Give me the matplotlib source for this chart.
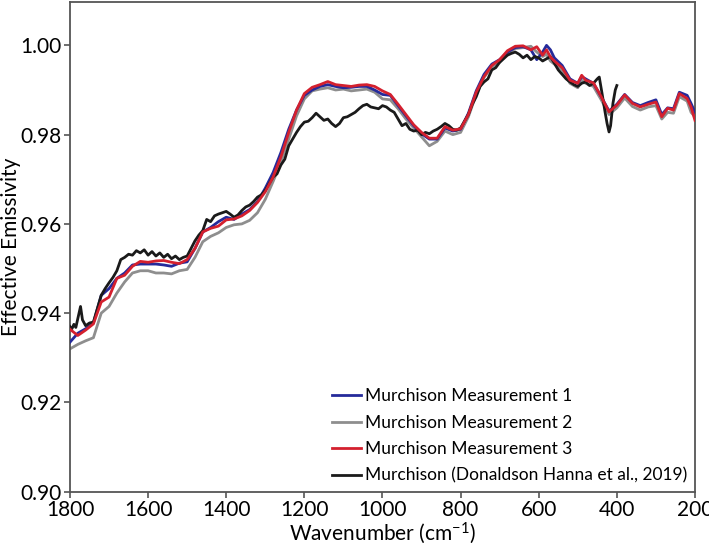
import matplotlib
matplotlib.use("Agg")
import matplotlib.pyplot as plt

plt.rcParams['font.family'] = ['Lato', 'DejaVu Sans']
plt.rcParams['mathtext.default'] = 'regular'

# Shared wavenumber grid for the three Murchison measurements (cm-1)
wavenumber = [1800, 1780, 1760, 1740, 1720, 1700, 1680, 1660, 1640, 1620, 1600, 1580, 1560, 1540, 1520,
              1500, 1480, 1460, 1440, 1420, 1400, 1380, 1360, 1340, 1320, 1300, 1280, 1260, 1240, 1220,
              1200, 1180, 1160, 1140, 1120, 1100, 1080, 1060, 1040, 1020, 1000, 980, 960, 940, 920,
              900, 880, 860, 840, 820, 800, 780, 760, 740, 720, 700, 680, 660, 640, 620,
              605, 590, 580, 570, 560, 540, 520, 500, 490, 480, 460, 440, 420, 400, 380,
              360, 340, 320, 300, 285, 270, 255, 240, 220, 210, 200]

meas1 = [0.9335, 0.9355, 0.9365, 0.9378, 0.9440, 0.9455, 0.9478, 0.9490, 0.9508, 0.9510, 0.9510, 0.9510,
         0.9508, 0.9505, 0.9512, 0.9515, 0.9545, 0.9582, 0.9592, 0.9605, 0.9615, 0.9610, 0.9622, 0.9632,
         0.9650, 0.9680, 0.9715, 0.9760, 0.9812, 0.9855, 0.9888, 0.9900, 0.9908, 0.9912, 0.9908, 0.9905,
         0.9906, 0.9908, 0.9908, 0.9900, 0.9890, 0.9888, 0.9865, 0.9842, 0.9820, 0.9802, 0.9790, 0.9790,
         0.9815, 0.9808, 0.9812, 0.9848, 0.9898, 0.9935, 0.9958, 0.9968, 0.9985, 0.9995, 0.9997, 0.9990,
         0.9968, 0.9985, 1.0000, 0.9990, 0.9972, 0.9955, 0.9925, 0.9915, 0.9930, 0.9925, 0.9915, 0.9885,
         0.9853, 0.9868, 0.9890, 0.9872, 0.9865, 0.9872, 0.9878, 0.9845, 0.9860, 0.9858, 0.9895, 0.9888,
         0.9870, 0.9850]

meas2 = [0.9320, 0.9330, 0.9338, 0.9345, 0.9400, 0.9415, 0.9445, 0.9470, 0.9490, 0.9495, 0.9495, 0.9490,
         0.9490, 0.9488, 0.9495, 0.9498, 0.9525, 0.9560, 0.9572, 0.9580, 0.9592, 0.9598, 0.9600, 0.9608,
         0.9625, 0.9655, 0.9695, 0.9738, 0.9790, 0.9842, 0.9880, 0.9898, 0.9902, 0.9905, 0.9900, 0.9902,
         0.9898, 0.9900, 0.9902, 0.9895, 0.9880, 0.9878, 0.9858, 0.9835, 0.9815, 0.9795, 0.9775, 0.9785,
         0.9808, 0.9800, 0.9805, 0.9840, 0.9890, 0.9928, 0.9952, 0.9962, 0.9982, 0.9993, 0.9995, 0.9998,
         0.9985, 0.9975, 0.9980, 0.9965, 0.9958, 0.9945, 0.9915, 0.9905, 0.9922, 0.9915, 0.9908, 0.9878,
         0.9845, 0.9860, 0.9882, 0.9863, 0.9855, 0.9862, 0.9865, 0.9835, 0.9850, 0.9848, 0.9885, 0.9875,
         0.9850, 0.9840]

meas3 = [0.9364, 0.9350, 0.9362, 0.9376, 0.9425, 0.9436, 0.9478, 0.9485, 0.9505, 0.9516, 0.9514, 0.9517,
         0.9518, 0.9514, 0.9511, 0.9520, 0.9545, 0.9582, 0.9590, 0.9595, 0.9609, 0.9611, 0.9618, 0.9630,
         0.9648, 0.9672, 0.9705, 0.9750, 0.9805, 0.9855, 0.9892, 0.9906, 0.9912, 0.9919, 0.9912, 0.9910,
         0.9908, 0.9911, 0.9912, 0.9908, 0.9898, 0.9890, 0.9868, 0.9845, 0.9822, 0.9805, 0.9792, 0.9792,
         0.9818, 0.9810, 0.9813, 0.9845, 0.9895, 0.9930, 0.9955, 0.9968, 0.9988, 0.9998, 0.9999, 0.9990,
         0.9997, 0.9978, 0.9990, 0.9974, 0.9965, 0.9950, 0.9922, 0.9915, 0.9933, 0.9922, 0.9916, 0.9885,
         0.9851, 0.9866, 0.9889, 0.9870, 0.9862, 0.9868, 0.9873, 0.9840, 0.9859, 0.9855, 0.9892, 0.9881,
         0.9862, 0.9832]

# Donaldson Hanna et al. (2019) spectrum
dh_wavenumber = [1800, 1795, 1790, 1785, 1778, 1773, 1768, 1760, 1750, 1740, 1730, 1720, 1710, 1700, 1690,
                 1680, 1670, 1660, 1650, 1640, 1630, 1620, 1610, 1600, 1590, 1580, 1570, 1560, 1550, 1540,
                 1530, 1520, 1510, 1500, 1490, 1480, 1470, 1460, 1450, 1440, 1430, 1420, 1410, 1400, 1390,
                 1380, 1370, 1360, 1350, 1340, 1330, 1320, 1310, 1300, 1290, 1280, 1270, 1260, 1250, 1240,
                 1230, 1220, 1210, 1200, 1190, 1180, 1170, 1160, 1150, 1140, 1130, 1120, 1110, 1100, 1090,
                 1080, 1070, 1060, 1050, 1040, 1030, 1020, 1010, 1000, 990, 980, 970, 960, 950, 940,
                 930, 920, 910, 900, 890, 880, 870, 860, 850, 840, 830, 820, 810, 800, 790,
                 780, 770, 760, 750, 740, 730, 720, 710, 700, 690, 680, 670, 660, 650, 640,
                 630, 620, 610, 600, 590, 580, 570, 560, 550, 540, 530, 520, 510, 500, 490,
                 480, 470, 460, 450, 445, 438, 430, 425, 420, 416, 410, 404, 400]
dh_emissivity = [0.9370, 0.9365, 0.9375, 0.9368, 0.9395, 0.9415, 0.9385, 0.9372, 0.9378, 0.9380, 0.9410,
                 0.9440, 0.9455, 0.9468, 0.9480, 0.9495, 0.9520, 0.9525, 0.9532, 0.9530, 0.9540, 0.9535,
                 0.9542, 0.9530, 0.9538, 0.9528, 0.9535, 0.9525, 0.9532, 0.9522, 0.9528, 0.9520, 0.9525,
                 0.9528, 0.9545, 0.9562, 0.9575, 0.9585, 0.9610, 0.9605, 0.9618, 0.9622, 0.9625, 0.9628,
                 0.9622, 0.9615, 0.9620, 0.9630, 0.9638, 0.9642, 0.9650, 0.9660, 0.9665, 0.9675, 0.9690,
                 0.9705, 0.9712, 0.9732, 0.9745, 0.9775, 0.9790, 0.9805, 0.9818, 0.9828, 0.9830, 0.9838,
                 0.9848, 0.9840, 0.9832, 0.9835, 0.9825, 0.9818, 0.9825, 0.9838, 0.9840, 0.9845, 0.9850,
                 0.9858, 0.9865, 0.9868, 0.9862, 0.9860, 0.9858, 0.9865, 0.9862, 0.9855, 0.9850, 0.9835,
                 0.9820, 0.9825, 0.9812, 0.9808, 0.9810, 0.9800, 0.9805, 0.9802, 0.9808, 0.9812, 0.9818,
                 0.9825, 0.9820, 0.9812, 0.9810, 0.9815, 0.9830, 0.9845, 0.9868, 0.9885, 0.9908, 0.9918,
                 0.9925, 0.9945, 0.9950, 0.9962, 0.9970, 0.9978, 0.9982, 0.9985, 0.9980, 0.9972, 0.9978,
                 0.9968, 0.9975, 0.9972, 0.9965, 0.9970, 0.9975, 0.9960, 0.9945, 0.9935, 0.9925, 0.9918,
                 0.9912, 0.9908, 0.9915, 0.9918, 0.9910, 0.9915, 0.9925, 0.9929, 0.9893, 0.9850, 0.9825,
                 0.9806, 0.9820, 0.9870, 0.9900, 0.9910]

labels = ["Murchison Measurement 1", "Murchison Measurement 2", "Murchison Measurement 3",
          "Murchison (Donaldson Hanna et al., 2019)"]
colors = ["#252a9a", "#8e8e8e", "#d4202e", "#1a1a1a"]
xticks = [1800, 1600, 1400, 1200, 1000, 800, 600, 400, 200]
yticks = [0.90, 0.92, 0.94, 0.96, 0.98, 1.00]

fig = plt.figure(figsize=(7.09, 5.43), dpi=100)
ax = fig.add_axes([0.0987, 0.0945, 0.8815, 0.9025])

lw = 2.0
l2, = ax.plot(wavenumber, meas2, color=colors[1], lw=lw, zorder=2)
l1, = ax.plot(wavenumber, meas1, color=colors[0], lw=lw, zorder=3)
l4, = ax.plot(dh_wavenumber, dh_emissivity, color=colors[3], lw=lw, zorder=4)
l3, = ax.plot(wavenumber, meas3, color=colors[2], lw=lw, zorder=5)

ax.set_xlim(1800, 200)
ax.set_ylim(0.90, 1.0098)
ax.set_xticks(xticks)
ax.set_xticklabels([str(t) for t in xticks])
ax.set_yticks(yticks)
ax.set_yticklabels([f"{t:.2f}" for t in yticks])

for s in ax.spines.values():
    s.set_color("#555555")
    s.set_linewidth(1.3)
ax.tick_params(axis='both', direction='out', length=4, width=1.2, color="#555555",
               labelsize=15, pad=2)

ax.set_xlabel("Wavenumber (cm$^{-1}$)", fontsize=15, labelpad=0)
ax.set_ylabel("Effective Emissivity", fontsize=15)
ax.yaxis.set_label_coords(-0.078, 0.5)

leg = ax.legend([l1, l2, l3, l4], labels, loc='lower right', frameon=False, fontsize=12.5,
                handlelength=1.7, handletextpad=0.2, labelspacing=0.6,
                borderaxespad=0.25, borderpad=0.2)

fig.savefig("out.png", dpi=100)
